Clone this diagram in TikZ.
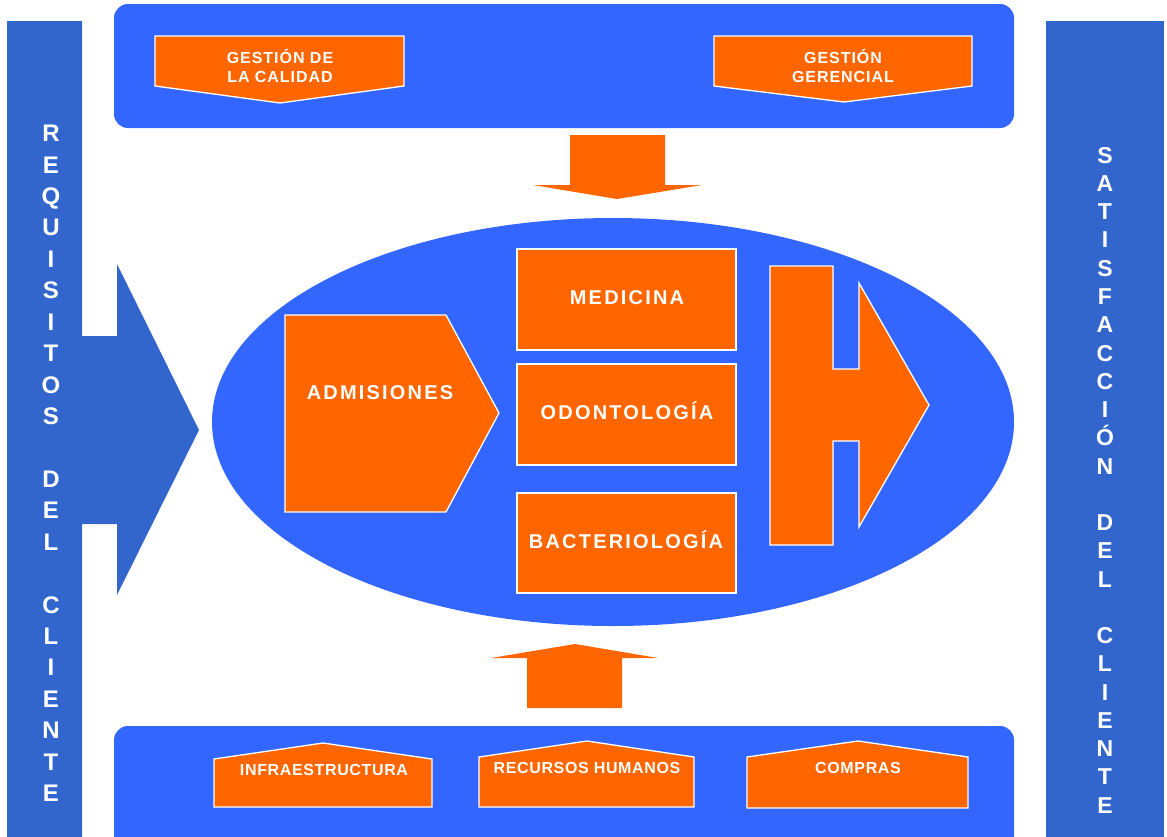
\documentclass[tikz,border=0pt]{standalone}
\usepackage{fontspec}
\setmainfont{Liberation Sans}
\newfontfamily\spacedA[LetterSpace=11]{Liberation Sans}
\newfontfamily\spacedB[LetterSpace=6]{Liberation Sans}
\newfontfamily\spacedC[LetterSpace=4]{Liberation Sans}
\definecolor{boxblue}{HTML}{3366FF}
\definecolor{barblue}{HTML}{3366CC}
\definecolor{orng}{HTML}{FF6600}
\tikzset{
  orangeshape/.style={fill=orng, draw=white, line width=1.3pt, line join=miter},
  bigtxt/.style={text=white, inner sep=0pt, anchor=base, font=\spacedA\bfseries\fontsize{20}{24}\selectfont},
  toptxt/.style={text=white, inner sep=0pt, align=center, font=\spacedB\bfseries\fontsize{16}{19}\selectfont},
  bottxt/.style={text=white, inner sep=0pt, anchor=base, font=\spacedC\bfseries\fontsize{16}{19}\selectfont},
  vleft/.style={text=white, inner sep=0pt, anchor=base, font=\bfseries\fontsize{24}{28}\selectfont},
  vright/.style={text=white, inner sep=0pt, anchor=base, font=\bfseries\fontsize{23}{27}\selectfont},
}
\begin{document}
\begin{tikzpicture}[x=1pt,y=-1pt]
\useasboundingbox (0,0) rectangle (1167,836);
\clip (0,0) rectangle (1167,836);
\fill[white] (0,0) rectangle (1167,836);

% side bars
\fill[barblue] (7,21) -- (82,21) -- (82,336) -- (117,336) -- (117,264) -- (199,430)
  -- (117,595) -- (117,524) -- (82,524) -- (82,850) -- (7,850) -- cycle;
\fill[barblue] (1046,21) rectangle (1164,850);

\foreach \l/\i in {R/0,E/1,Q/2,U/3,I/4,S/5,I/6,T/7,O/8,S/9,D/11,E/12,L/13,C/15,L/16,I/17,E/18,N/19,T/20,E/21}
  \node[vleft] (req\i) at (51,{133+31.43*\i+8.6}) {\l};
\foreach \l/\i in {S/0,A/1,T/2,I/3,S/4,F/5,A/6,C/7,C/8,I/9,Ó/10,N/11,D/13,E/14,L/15,C/17,L/18,I/19,E/20,N/21,T/22,E/23}
  \node[vright] (sat\i) at (1105,{155+28.26*\i+8.2}) {\l};

% top box
\fill[boxblue, rounded corners=14pt] (114,4) rectangle (1014,128);
\draw[orangeshape] (155,36) -- (404,36) -- (404,86) -- (280,103) -- (155,86) -- cycle;
\node[toptxt] (calidad) at (280,66) {GESTIÓN DE\\LA CALIDAD};
\draw[orangeshape] (714,36) -- (972,36) -- (972,86) -- (844,102) -- (714,86) -- cycle;
\node[toptxt] (gerencial) at (843,66) {GESTIÓN\\GERENCIAL};

% down arrow
\fill[orng] (570,135) -- (665,135) -- (665,185) -- (702,185) -- (617,199) -- (533,185) -- (570,185) -- cycle;

% ellipse
\fill[boxblue] (613,422) ellipse [x radius=401, y radius=204];

% admisiones
\draw[orangeshape] (285,315) -- (446,315) -- (499,413) -- (446,512) -- (285,512) -- cycle;
\node[bigtxt] (adm) at (380,399) {ADMISIONES};

% services
\draw[orangeshape] (517,249) rectangle (736,350);
\node[bigtxt] (med) at (627,304) {MEDICINA};
\draw[orangeshape] (517,364) rectangle (736,465);
\node[bigtxt] (odo) at (627,419) {ODONTOLOGÍA};
\draw[orangeshape] (517,493) rectangle (736,593);
\node[bigtxt] (bac) at (626,548) {BACTERIOLOGÍA};

% right arrow shape
\draw[orangeshape] (770,266) -- (833,266) -- (833,369) -- (859,369) -- (859,283) -- (929,405)
  -- (859,527) -- (859,441) -- (833,441) -- (833,545) -- (770,545) -- cycle;

% up arrow
\fill[orng] (527,708) -- (527,658) -- (491,658) -- (575,644) -- (658,658) -- (622,658) -- (622,708) -- cycle;

% bottom box
\fill[boxblue, rounded corners=14pt] (114,726) rectangle (1014,860);
\draw[orangeshape] (214,807) -- (214,759) -- (323,743) -- (432,759) -- (432,807) -- cycle;
\node[bottxt] (infra) at (324,775) {INFRAESTRUCTURA};
\draw[orangeshape] (479,807) -- (479,757) -- (587,741) -- (694,757) -- (694,807) -- cycle;
\node[bottxt] (rrhh) at (587,773) {RECURSOS HUMANOS};
\draw[orangeshape] (747,808) -- (747,757) -- (858,741) -- (968,757) -- (968,808) -- cycle;
\node[bottxt] (compras) at (858,773) {COMPRAS};
\end{tikzpicture}
\end{document}
